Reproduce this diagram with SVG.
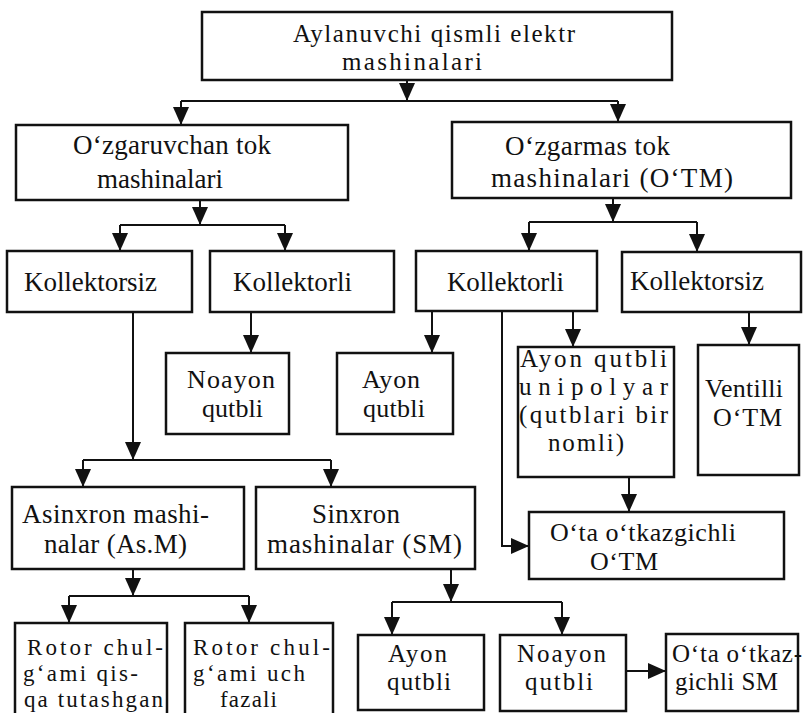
<svg xmlns="http://www.w3.org/2000/svg" width="807" height="713" viewBox="0 0 807 713">
<style>
.box{fill:#fff;stroke:#111;stroke-width:2.5}
.t{font-family:"Liberation Serif","Times New Roman",serif;font-size:27px;fill:#111}
.m{font-size:26px}
.s{font-size:25px}
.r{font-size:23px}
.c{fill:none;stroke:#111;stroke-width:2}
.a{fill:none;stroke:#111;stroke-width:2;marker-end:url(#ah)}
</style>
<defs>
<marker id="ah" markerWidth="18" markerHeight="16" refX="18" refY="8" orient="auto" markerUnits="userSpaceOnUse" viewBox="0 0 18 16"><path d="M0,0 L18,8 L0,16 z" fill="#111"/></marker>
</defs>
<rect width="807" height="713" fill="#fff"/>
<g id="connectors">
<path class="a" d="M407,80 V101"/>
<path class="c" d="M181,101 H618"/>
<path class="a" d="M181,101 V125"/>
<path class="a" d="M618,101 V122"/>
<path class="a" d="M200,200 V225"/>
<path class="c" d="M120,225 H285"/>
<path class="a" d="M120,225 V251"/>
<path class="a" d="M285,225 V251"/>
<path class="a" d="M613,198 V222"/>
<path class="c" d="M529,222 H697"/>
<path class="a" d="M529,222 V251"/>
<path class="a" d="M697,222 V252"/>
<path class="a" d="M133,312 V460"/>
<path class="c" d="M83,460 H331"/>
<path class="a" d="M83,460 V487"/>
<path class="a" d="M331,460 V487"/>
<path class="a" d="M251,312 V353"/>
<path class="a" d="M432,311 V353"/>
<path class="a" d="M502,311 V546 H529"/>
<path class="a" d="M573,311 V347"/>
<path class="a" d="M749,312 V345"/>
<path class="a" d="M629,477 V512"/>
<path class="a" d="M133,569 V596"/>
<path class="c" d="M69,596 H249"/>
<path class="a" d="M69,596 V623"/>
<path class="a" d="M249,596 V623"/>
<path class="a" d="M451,569 V602"/>
<path class="c" d="M392,602 H562"/>
<path class="a" d="M392,602 V635"/>
<path class="a" d="M562,602 V635"/>
<path class="a" d="M626,671 H666"/>
</g>
<g id="n-root"><rect class="box" x="202" y="12" width="470" height="68"/>
<text class="t s" x="293" y="42" textLength="282">Aylanuvchi qismli elektr</text>
<text class="t s" x="342" y="70" textLength="140">mashinalari</text></g>
<g id="n-ac"><rect class="box" x="16" y="125" width="332" height="75"/>
<text class="t" x="73" y="154" textLength="198">O‘zgaruvchan tok</text>
<text class="t" x="97" y="188" textLength="126">mashinalari</text></g>
<g id="n-dc"><rect class="box" x="452" y="122" width="339" height="76"/>
<text class="t" x="505" y="155" textLength="165">O‘zgarmas tok</text>
<text class="t" x="491" y="187" textLength="242">mashinalari (O‘TM)</text></g>
<g id="n-ac-kollektorsiz"><rect class="box" x="7" y="251" width="185" height="61"/>
<text class="t" x="24" y="291" textLength="133">Kollektorsiz</text></g>
<g id="n-ac-kollektorli"><rect class="box" x="210" y="251" width="184" height="61"/>
<text class="t" x="233" y="291" textLength="119">Kollektorli</text></g>
<g id="n-dc-kollektorli"><rect class="box" x="416" y="251" width="181" height="60"/>
<text class="t" x="447" y="291" textLength="117">Kollektorli</text></g>
<g id="n-dc-kollektorsiz"><rect class="box" x="622" y="252" width="179" height="60"/>
<text class="t" x="630" y="290" textLength="134">Kollektorsiz</text></g>
<g id="n-noayon1"><rect class="box" x="166" y="353" width="123" height="81"/>
<text class="t m" x="187" y="388" textLength="88">Noayon</text>
<text class="t m" x="202" y="417" textLength="61">qutbli</text></g>
<g id="n-ayon1"><rect class="box" x="337" y="353" width="116" height="81"/>
<text class="t m" x="362" y="388" textLength="58">Ayon</text>
<text class="t m" x="363" y="417" textLength="62">qutbli</text></g>
<g id="n-unipolyar"><rect class="box" x="518" y="347" width="156" height="130"/>
<text class="t s" x="520" y="367" textLength="147">Ayon qutbli</text>
<text class="t s" x="519" y="395" textLength="149">u n i p o l y a r</text>
<text class="t s" x="519" y="423" textLength="149">(qutblari bir</text>
<text class="t s" x="548" y="451" textLength="76">nomli)</text></g>
<g id="n-ventilli"><rect class="box" x="698" y="345" width="101" height="130"/>
<text class="t m" x="705" y="397" textLength="78">Ventilli</text>
<text class="t m" x="713" y="426" textLength="69">O‘TM</text></g>
<g id="n-asinxron"><rect class="box" x="12" y="487" width="232" height="82"/>
<text class="t" x="22" y="523" textLength="187">Asinxron mashi-</text>
<text class="t" x="44" y="553" textLength="143">nalar (As.M)</text></g>
<g id="n-sinxron"><rect class="box" x="256" y="487" width="219" height="82"/>
<text class="t" x="312" y="523" textLength="88">Sinxron</text>
<text class="t" x="267" y="553" textLength="195">mashinalar (SM)</text></g>
<g id="n-ota-otm"><rect class="box" x="529" y="512" width="255" height="67"/>
<text class="t m" x="550" y="541" textLength="186">O‘ta o‘tkazgichli</text>
<text class="t m" x="590" y="570" textLength="68">O‘TM</text></g>
<g id="n-rotor1"><rect class="box" x="15" y="623" width="152" height="95"/>
<text class="t r" x="27" y="655" textLength="136">Rotor chul-</text>
<text class="t r" x="23" y="681" textLength="115">g‘ami qis-</text>
<text class="t r" x="24" y="707" textLength="139">qa tutashgan</text></g>
<g id="n-rotor2"><rect class="box" x="185" y="623" width="148" height="95"/>
<text class="t r" x="193" y="655" textLength="137">Rotor chul-</text>
<text class="t r" x="193" y="681" textLength="112">g‘ami uch</text>
<text class="t r" x="220" y="707" textLength="57">fazali</text></g>
<g id="n-ayon2"><rect class="box" x="358" y="635" width="126" height="75"/>
<text class="t s" x="388" y="662" textLength="59">Ayon</text>
<text class="t s" x="387" y="690" textLength="64">qutbli</text></g>
<g id="n-noayon2"><rect class="box" x="500" y="635" width="126" height="76"/>
<text class="t s" x="517" y="662" textLength="89">Noayon</text>
<text class="t s" x="525" y="690" textLength="68">qutbli</text></g>
<g id="n-ota-sm"><rect class="box" x="666" y="634" width="132" height="77"/>
<text class="t s" x="672" y="662" textLength="130">O‘ta o‘tkaz-</text>
<text class="t s" x="675" y="690" textLength="103">gichli SM</text></g>
</svg>
